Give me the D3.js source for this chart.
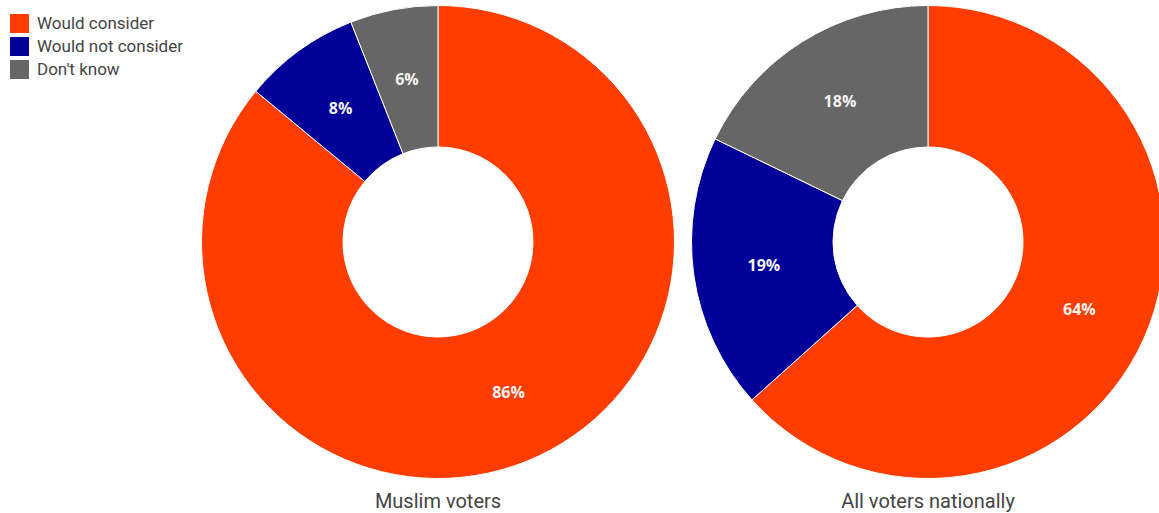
<!DOCTYPE html>
<html><head><meta charset="utf-8">
<script src="https://cdn.jsdelivr.net/npm/d3@7"></script>
<style>body{margin:0;background:#fff;}svg{display:block;}</style>
</head><body>
<svg id="c" width="1159" height="513"></svg>
<script>
const categories = ["Would consider", "Would not consider", "Don't know"];
const colors = ["#ff3d00", "#000099", "#666666"];
const groups = ["Muslim voters", "All voters nationally"];
const muslimValues = [86, 8, 6];
const nationalValues = [64, 19, 18];
const seriesValues = [muslimValues, nationalValues];

const svg = d3.select("#c");
const font = "Roboto, Arial, sans-serif";
const cx = d3.scalePoint().domain(groups).range([438, 928]);
const cy = 242, rOuter = 236.5, rInner = 95;
const color = d3.scaleOrdinal().domain(categories).range(colors);
const pie = d3.pie().sort(null).value(d => d.v);
const arc = d3.arc().innerRadius(rInner).outerRadius(rOuter);

groups.forEach((g, gi) => {
  const data = categories.map((c, i) => ({c, v: seriesValues[gi][i]}));
  const gg = svg.append("g").attr("transform", `translate(${cx(g)},${cy})`);
  const arcs = pie(data);
  gg.selectAll("path").data(arcs).join("path")
    .attr("d", arc).attr("fill", d => color(d.data.c))
    .attr("stroke", "#fff").attr("stroke-width", 1);
  gg.selectAll("text").data(arcs).join("text")
    .attr("transform", d => `translate(${arc.centroid(d)})`)
    .attr("text-anchor", "middle").attr("dy", "0.36em")
    .attr("fill", "#f2f2f2").attr("font-family", "'Open Sans', Arial, sans-serif")
    .attr("font-weight", "bold").attr("font-size", 16)
    .text(d => d.data.v + "%");
  svg.append("text").attr("x", cx(g)).attr("y", 508)
    .attr("text-anchor", "middle").attr("font-family", font)
    .attr("font-size", 20).attr("fill", "#444").text(g);
});

const leg = svg.append("g");
categories.forEach((c, i) => {
  leg.append("rect").attr("x", 10).attr("y", 14 + i * 23).attr("width", 19).attr("height", 19)
    .attr("fill", color(c));
  leg.append("text").attr("x", 37).attr("y", 29 + i * 23)
    .attr("font-family", font).attr("font-size", 17).attr("fill", "#444").text(c);
});
</script>
</body></html>
